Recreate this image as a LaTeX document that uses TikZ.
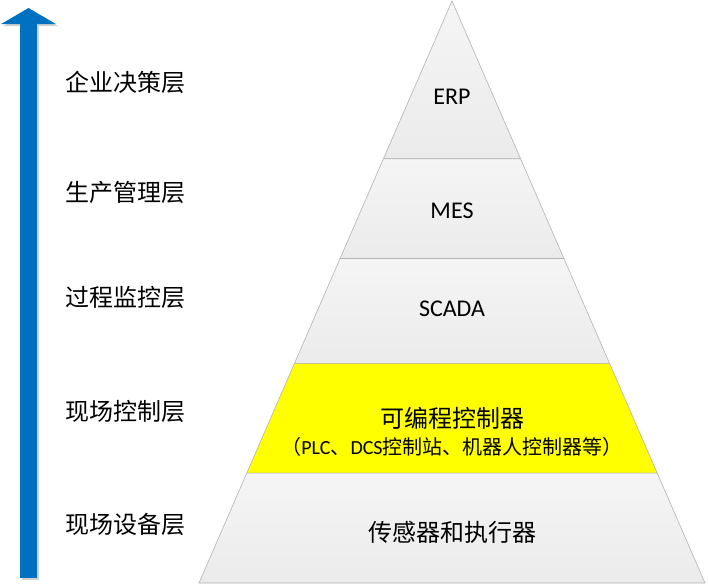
\documentclass[tikz,border=0pt]{standalone}
\usepackage{fontspec}
\setmainfont{Carlito}
\newfontfamily\cjk{Noto Sans CJK SC}
\usetikzlibrary{calc, arrows.meta}
\definecolor{arrowblue}{HTML}{0070C0}
\definecolor{laytop}{HTML}{F5F5F5}
\definecolor{laybot}{HTML}{EBEBEB}

\begin{document}
\begin{tikzpicture}[x=1pt, y=-1pt,
	lvl/.style={font=\cjk\fontsize{24}{28}\selectfont, anchor=west, inner sep=0pt},
	layer/.style={top color=laytop, bottom color=laybot, draw=gray!60, line width=0.6pt},
	txt/.style={font=\fontsize{24}{28}\selectfont, inner sep=0pt},
	ctxt/.style={font=\cjk\fontsize{24}{28}\selectfont, inner sep=0pt}]
	\useasboundingbox (0,0) rectangle (708,587);

	% pyramid
	\coordinate (apex) at (452,1);
	\coordinate (bl) at (199,583);
	\coordinate (br) at (705,583);
	\foreach \n/\t in {a/0.271, b/0.4425, c/0.6226, d/0.8113}{
		\coordinate (l\n) at ($(apex)!\t!(bl)$);
		\coordinate (r\n) at ($(apex)!\t!(br)$);
	}
	\path[layer] (apex) -- (ra) -- (la) -- cycle;
	\path[layer] (la) -- (ra) -- (rb) -- (lb) -- cycle;
	\path[layer] (lb) -- (rb) -- (rc) -- (lc) -- cycle;
	\path[layer, top color=yellow, bottom color=yellow] (lc) -- (rc) -- (rd) -- (ld) -- cycle;
	\path[layer] (ld) -- (rd) -- (br) -- (bl) -- cycle;

	\node[txt] (erp) at (452,97) {ERP};
	\node[txt] (mes) at (452,211) {MES};
	\node[txt] (scada) at (452,309) {SCADA};
	\node[ctxt] (plc) at (452,418) {可编程控制器};
	\node[inner sep=0pt, font=\fontsize{20}{24}\selectfont] (plcsub) at (452,447)
		{{\cjk （}PLC{\cjk 、}DCS{\cjk 控制站、机器人控制器等）}};
	\node[ctxt] (dev) at (452,532) {传感器和执行器};

	% arrow
	\coordinate (tail) at (28.5,578);
	\coordinate (tip) at (28.5,8);
	\draw[gray!35, line width=17pt, -{Triangle[width=54pt, length=16pt]}]
		($(tail)+(2,2)$) -- ($(tip)+(2,2)$);
	\draw[arrowblue, line width=17pt, -{Triangle[width=54pt, length=16pt]}] (tail) -- (tip);

	% levels
	\node[lvl] (l1) at (65,82) {企业决策层};
	\node[lvl] (l2) at (65,192) {生产管理层};
	\node[lvl] (l3) at (65,297) {过程监控层};
	\node[lvl] (l4) at (65,411) {现场控制层};
	\node[lvl] (l5) at (65,524) {现场设备层};
\end{tikzpicture}
\end{document}
